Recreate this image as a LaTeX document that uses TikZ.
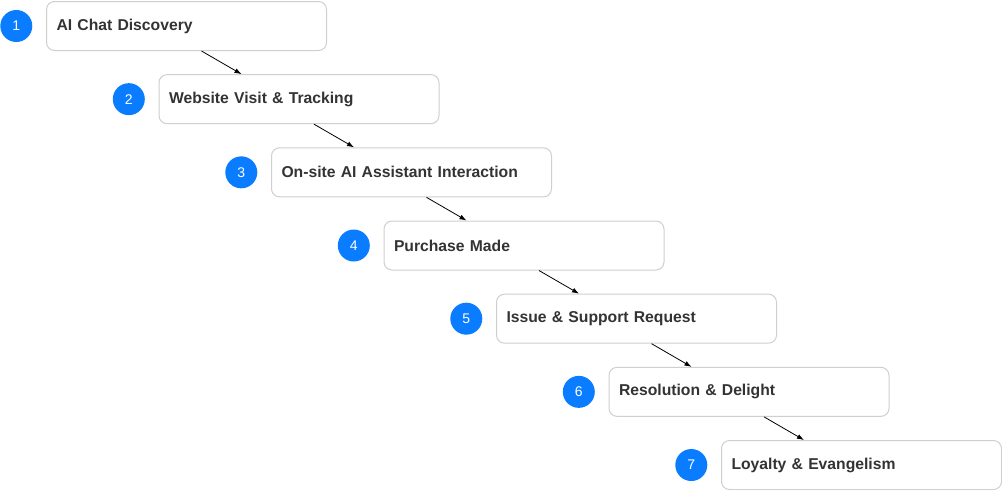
\documentclass[tikz,border=0pt]{standalone}
\usepackage{fontspec}
\setmainfont{Liberation Sans}
\usetikzlibrary{positioning, arrows.meta}

\definecolor{stepblue}{HTML}{0A7CFF}
\definecolor{boxline}{HTML}{CFCFCF}
\definecolor{boxtext}{HTML}{333333}

\tikzset{
	stage/.style = {draw = boxline, line width = 1pt, rounded corners = 8pt, fill = white,
		minimum height = 49pt, text width = 260pt, inner xsep = 10pt, inner ysep = 0pt,
		align = left, anchor = north west, text = boxtext,
		font = \bfseries\fontsize{15.7}{19}\selectfont},
	badge/.style = {circle, fill = stepblue, minimum size = 32pt, inner sep = 0pt,
		text = white, font = \fontsize{14}{16}\selectfont},
	flow/.style = {-{Latex[length = 7pt, width = 5pt]}, line width = 0.8pt, black}
}

\begin{document}
\begin{tikzpicture}[x = 1pt, y = -1pt]

	% Definition

	\def\DX{112.5}
	\def\DY{73.17}

	\useasboundingbox (0, 0) rectangle (1002, 490);

	% Stages

	\node [stage] (s1) at (46, 1) {AI Chat Discovery};
	\node [stage] (s2) at (46 + \DX, 1 + \DY) {Website Visit \& Tracking};
	\node [stage] (s3) at (46 + 2 * \DX, 1 + 2 * \DY) {On-site AI Assistant Interaction};
	\node [stage] (s4) at (46 + 3 * \DX, 1 + 3 * \DY) {Purchase Made};
	\node [stage] (s5) at (46 + 4 * \DX, 1 + 4 * \DY) {Issue \& Support Request};
	\node [stage] (s6) at (46 + 5 * \DX, 1 + 5 * \DY) {Resolution \& Delight};
	\node [stage] (s7) at (46 + 6 * \DX, 1 + 6 * \DY) {Loyalty \& Evangelism};

	% Numbers

	\node [badge, left = 13.5pt of s1] (n1) {1};
	\node [badge, left = 13.5pt of s2] (n2) {2};
	\node [badge, left = 13.5pt of s3] (n3) {3};
	\node [badge, left = 13.5pt of s4] (n4) {4};
	\node [badge, left = 13.5pt of s5] (n5) {5};
	\node [badge, left = 13.5pt of s6] (n6) {6};
	\node [badge, left = 13.5pt of s7] (n7) {7};

	% Arrows

	\draw [flow] ([xshift = 15pt] s1.south) -- ([xshift = -57.5pt] s2.north);
	\draw [flow] ([xshift = 15pt] s2.south) -- ([xshift = -57.5pt] s3.north);
	\draw [flow] ([xshift = 15pt] s3.south) -- ([xshift = -57.5pt] s4.north);
	\draw [flow] ([xshift = 15pt] s4.south) -- ([xshift = -57.5pt] s5.north);
	\draw [flow] ([xshift = 15pt] s5.south) -- ([xshift = -57.5pt] s6.north);
	\draw [flow] ([xshift = 15pt] s6.south) -- ([xshift = -57.5pt] s7.north);

\end{tikzpicture}
\end{document}
